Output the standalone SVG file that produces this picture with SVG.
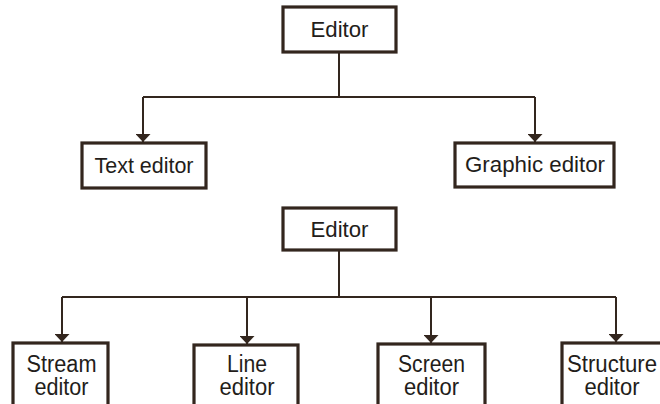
<svg xmlns="http://www.w3.org/2000/svg" width="660" height="404" viewBox="0 0 660 404">
  <style>
    .box { fill: #ffffff; stroke: #33261e; stroke-width: 3.2; }
    .wire { fill: none; stroke: #33261e; stroke-width: 2; }
    .lbl { font-family: "Liberation Sans", Arial, sans-serif; fill: #231d1a; text-anchor: middle; }
    .t1 { font-size: 22px; }
    .t2 { font-size: 23.5px; }
  </style>
  <defs>
    <marker id="arrow" viewBox="0 0 8 15" refX="8" refY="7.5" markerWidth="8" markerHeight="15" markerUnits="userSpaceOnUse" orient="auto">
      <path d="M0,0 L8,7.5 L0,15 Z" fill="#33261e"/>
    </marker>
  </defs>
  <rect width="660" height="404" fill="#ffffff"/>

  <!-- connectors -->
  <g id="connectors" class="wire">
    <path d="M339,52 V97"/>
    <path d="M143,97 H535"/>
    <path d="M143,97 V142" marker-end="url(#arrow)"/>
    <path d="M535,97 V142" marker-end="url(#arrow)"/>

    <path d="M339,250 V297"/>
    <path d="M62,297 H616"/>
    <path d="M62,297 V342" marker-end="url(#arrow)"/>
    <path d="M247,297 V344" marker-end="url(#arrow)"/>
    <path d="M431,297 V343" marker-end="url(#arrow)"/>
    <path d="M616,297 V342" marker-end="url(#arrow)"/>
  </g>

  <!-- first tree -->
  <g id="editor-top">
    <rect class="box" x="283" y="7" width="113" height="45"/>
    <text class="lbl t1" x="339.5" y="37" textLength="58" lengthAdjust="spacingAndGlyphs">Editor</text>
  </g>
  <g id="text-editor">
    <rect class="box" x="82" y="143" width="124" height="45"/>
    <text class="lbl t1" x="144" y="173" textLength="99" lengthAdjust="spacingAndGlyphs">Text editor</text>
  </g>
  <g id="graphic-editor">
    <rect class="box" x="455" y="143" width="159" height="44"/>
    <text class="lbl t1" x="535" y="172" textLength="140" lengthAdjust="spacingAndGlyphs">Graphic editor</text>
  </g>

  <!-- second tree -->
  <g id="editor-bottom">
    <rect class="box" x="283" y="208" width="113" height="42"/>
    <text class="lbl t1" x="339.5" y="237" textLength="58" lengthAdjust="spacingAndGlyphs">Editor</text>
  </g>
  <g id="stream-editor">
    <rect class="box" x="13" y="343" width="95" height="70"/>
    <text class="lbl t2" x="61.5" y="372" textLength="70" lengthAdjust="spacingAndGlyphs">Stream</text>
    <text class="lbl t2" x="61.5" y="395" textLength="54" lengthAdjust="spacingAndGlyphs">editor</text>
  </g>
  <g id="line-editor">
    <rect class="box" x="194" y="345" width="104" height="70"/>
    <text class="lbl t2" x="247" y="372" textLength="40" lengthAdjust="spacingAndGlyphs">Line</text>
    <text class="lbl t2" x="247" y="395" textLength="55" lengthAdjust="spacingAndGlyphs">editor</text>
  </g>
  <g id="screen-editor">
    <rect class="box" x="378" y="344" width="107" height="70"/>
    <text class="lbl t2" x="431.5" y="372" textLength="67" lengthAdjust="spacingAndGlyphs">Screen</text>
    <text class="lbl t2" x="431.5" y="395" textLength="55" lengthAdjust="spacingAndGlyphs">editor</text>
  </g>
  <g id="structure-editor">
    <rect class="box" x="562" y="343" width="104" height="70"/>
    <text class="lbl t2" x="612" y="372" textLength="90" lengthAdjust="spacingAndGlyphs">Structure</text>
    <text class="lbl t2" x="612" y="395" textLength="55" lengthAdjust="spacingAndGlyphs">editor</text>
  </g>
</svg>
